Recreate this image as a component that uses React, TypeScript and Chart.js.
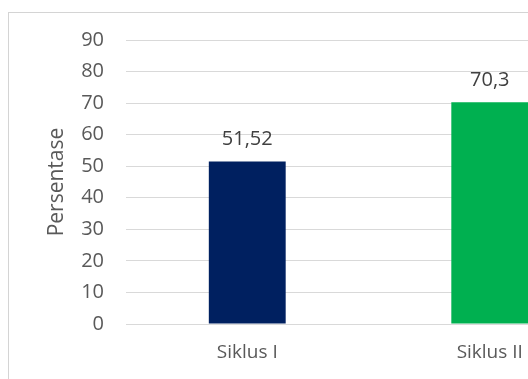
import React, { useEffect, useRef } from "react";
import { Chart, registerables } from "chart.js";

Chart.register(...registerables);

const categories = ["Siklus I", "Siklus II"];
const values = [51.52, 70.3];
const valueLabels = ["51,52", "70,3"];
const barColors = ["#002060", "#00B050"];
const yTitle = "Persentase";

const FONT = "'Open Sans', 'Noto Sans', sans-serif";
const TEXT = "#595959";

const dataLabelPlugin = {
  id: "dataLabels",
  afterDatasetsDraw(chart: any) {
    const ctx = chart.ctx;
    const meta = chart.getDatasetMeta(0);
    ctx.save();
    ctx.font = `20px ${FONT}`;
    ctx.fillStyle = "#404040";
    ctx.textAlign = "center";
    ctx.textBaseline = "alphabetic";
    meta.data.forEach((bar: any, i: number) => {
      ctx.fillText(valueLabels[i], bar.x, bar.y - 16.5);
    });
    ctx.restore();
  },
};

export default function App() {
  const ref = useRef<HTMLCanvasElement | null>(null);
  useEffect(() => {
    if (!ref.current) return;
    const chart = new Chart(ref.current, {
      type: "bar",
      data: {
        labels: categories,
        datasets: [
          {
            data: values,
            backgroundColor: barColors,
            categoryPercentage: 1,
            barPercentage: 0.317,
          },
        ],
      },
      options: {
        responsive: false,
        animation: false,
        layout: { padding: { top: 27, left: 31, right: 10, bottom: 0 } },
        plugins: { legend: { display: false }, tooltip: { enabled: false } },
        scales: {
          x: {
            grid: { display: false, drawTicks: false },
            border: { display: false },
            ticks: {
              color: TEXT,
              font: { family: FONT, size: 19 },
              padding: 17,
            },
            afterFit(scale: any) {
              scale.height = 89;
              scale.paddingLeft = 0;
              scale.paddingRight = 0;
            },
          },
          y: {
            min: 0,
            max: 90,
            grid: { color: "#d9d9d9", lineWidth: 1, drawTicks: false },
            border: { display: false },
            ticks: {
              stepSize: 10,
              color: TEXT,
              font: { family: FONT, size: 20 },
              padding: 22,
            },
            title: {
              display: true,
              text: yTitle,
              color: TEXT,
              font: { family: FONT, size: 21 },
              padding: { top: 4, bottom: 4 },
            },
            afterFit(scale: any) {
              scale.width = 86;
              scale.paddingTop = 0;
              scale.paddingBottom = 0;
            },
          },
        },
      },
      plugins: [dataLabelPlugin],
    });
    return () => chart.destroy();
  }, []);

  return (
    <div
      style={{
        position: "fixed",
        left: 0,
        top: 0,
        width: 528,
        height: 379,
        overflow: "hidden",
        background: "#fff",
      }}
    >
      <div
        style={{
          position: "absolute",
          left: 8,
          top: 12,
          width: 640,
          height: 420,
          border: "1px solid #d4d4d4",
          boxSizing: "border-box",
        }}
      >
        <canvas
          ref={ref}
          width={612}
          height={400}
          style={{ display: "block", width: 612, height: 400 }}
        />
      </div>
    </div>
  );
}
